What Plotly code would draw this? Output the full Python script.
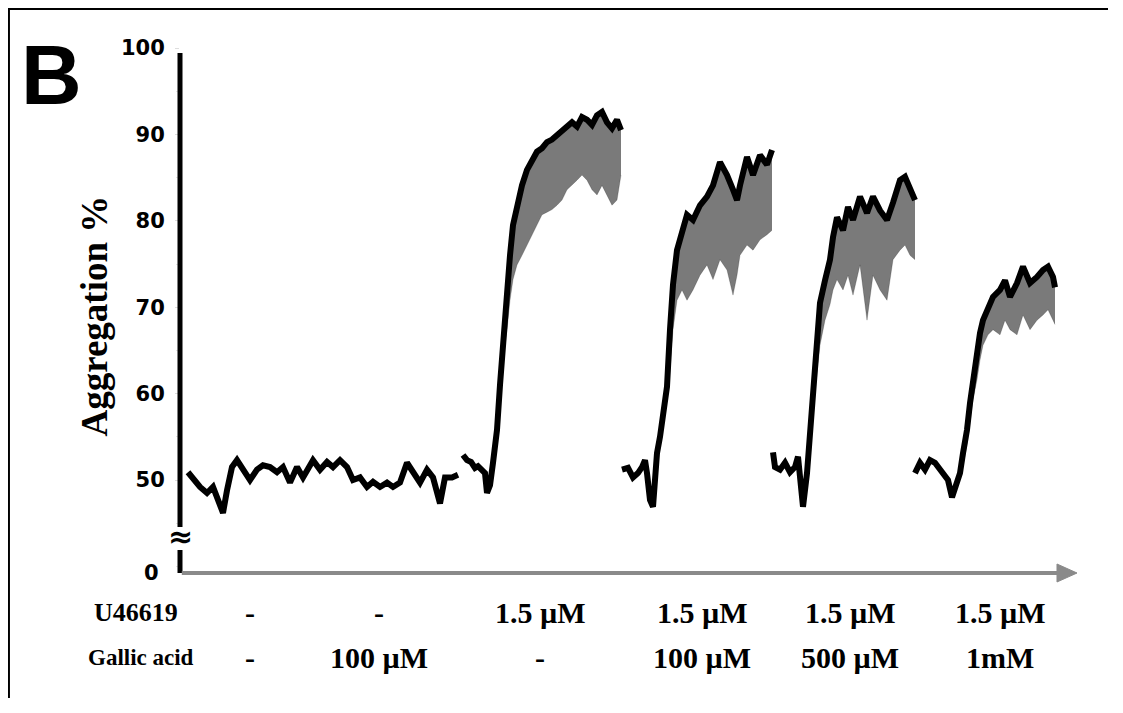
import plotly.graph_objects as go

# ---------------- data (time in arbitrary units, aggregation in %) ----------------
# control traces (no agonist / gallic acid alone)
t_ctrl = [8, 14, 20, 27, 33, 38, 43, 47, 52, 57, 63, 70, 77, 83, 90, 97, 103, 110, 117, 123,
          133, 140, 147, 153, 160, 167, 173, 180, 187, 193, 200, 207, 213, 220, 227, 233, 240,
          247, 253, 260, 265, 272, 278]
agg_ctrl = [50.9, 50.0, 49.2, 48.5, 49.2, 47.7, 46.2, 48.8, 51.5, 52.3, 51.2, 50.0, 51.2, 51.7,
            51.5, 50.9, 51.5, 49.7, 51.5, 50.3, 52.3, 51.2, 52.1, 51.5, 52.3, 51.5, 50.0, 50.3,
            49.2, 49.8, 49.2, 49.7, 49.2, 49.7, 52.0, 50.8, 49.7, 51.2, 50.3, 47.3, 50.3, 50.3, 50.6]

# U46619 1.5 uM
t_u46 = [283, 287, 291, 295, 298, 302, 305, 307, 310, 313, 317, 320, 323, 327, 330, 333, 337, 342,
         347, 352, 357, 362, 367, 372, 377, 382, 387, 392, 397, 402, 407, 412, 417, 422, 427, 432,
         437, 441]
agg_u46_top = [52.9, 52.3, 52.1, 51.4, 51.6, 51.2, 50.8, 48.5, 49.4, 52.0, 55.8, 61.0, 66.2, 71.2,
               76.0, 79.5, 81.8, 84.1, 85.9, 87.0, 88.0, 88.4, 89.1, 89.4, 89.9, 90.3, 90.7, 91.4,
               90.9, 92.0, 91.7, 91.1, 92.2, 92.6, 91.4, 90.7, 91.7, 90.5]
agg_u46_low = [52.9, 52.3, 52.1, 51.4, 51.6, 51.2, 50.8, 48.5, 49.4, 52.0, 54.6, 59.3, 63.9, 67.4,
               70.8, 73.2, 74.9, 76.0, 77.2, 78.4, 79.5, 80.7, 81.0, 81.3, 81.8, 82.4, 83.6, 84.1,
               84.7, 85.3, 84.7, 83.6, 83.0, 84.1, 83.0, 81.8, 82.4, 85.3]

# U46619 1.5 uM + gallic acid 100 uM
t_ga100 = [442, 448, 453, 458, 462, 465, 467, 470, 473, 477, 480, 483, 487, 490, 493, 497, 502,
           507, 513, 520, 527, 533, 540, 547, 553, 557, 560, 567, 573, 580, 587, 592]
agg_ga100_top = [51.2, 51.4, 50.3, 50.8, 51.5, 52.3, 50.8, 47.7, 46.9, 53.1, 55.0, 58.1, 60.8,
                 67.4, 72.6, 76.6, 78.9, 80.7, 80.1, 81.8, 82.8, 84.1, 86.8, 85.3, 83.6, 82.4,
                 84.1, 87.4, 85.3, 87.6, 86.5, 88.2]
agg_ga100_low = [51.2, 51.4, 50.3, 50.8, 51.5, 52.3, 50.8, 47.7, 46.9, 53.1, 54.1, 56.9, 59.3,
                 62.7, 67.4, 70.8, 72.0, 70.8, 72.0, 73.7, 74.9, 73.2, 75.5, 74.3, 71.4, 73.7,
                 76.0, 77.2, 76.6, 77.8, 78.4, 78.9]

# U46619 1.5 uM + gallic acid 500 uM
t_ga500 = [593, 595, 600, 605, 610, 615, 618, 620, 623, 627, 630, 633, 637, 640, 645, 650, 653,
           657, 663, 668, 673, 680, 687, 693, 700, 707, 713, 720, 725, 730, 735]
agg_ga500_top = [53.2, 51.5, 51.2, 52.0, 50.9, 51.5, 52.7, 50.8, 46.9, 50.8, 55.0, 60.1, 66.6,
                 70.5, 73.1, 75.5, 78.1, 80.4, 78.9, 81.6, 80.1, 82.8, 80.9, 82.8, 81.2, 80.1,
                 82.1, 84.7, 85.1, 83.6, 82.4]
agg_ga500_low = [53.2, 51.5, 51.2, 52.0, 50.9, 51.5, 52.7, 50.8, 46.9, 50.8, 54.1, 58.1, 62.7,
                 65.6, 68.5, 70.3, 72.0, 73.2, 72.0, 73.7, 71.4, 74.9, 68.5, 73.7, 72.0, 70.8,
                 75.5, 76.6, 77.2, 76.0, 75.5]

# U46619 1.5 uM + gallic acid 1 mM
t_ga1000 = [735, 740, 745, 750, 755, 760, 765, 768, 772, 775, 780, 783, 787, 790, 793, 797, 800,
            803, 808, 813, 820, 825, 830, 837, 843, 850, 857, 863, 868, 873, 875]
agg_ga1000_top = [50.8, 52.0, 51.2, 52.3, 52.0, 51.2, 50.3, 50.0, 48.0, 49.2, 50.8, 53.1, 55.8,
                  58.9, 61.6, 64.7, 67.0, 68.5, 70.0, 71.2, 72.0, 73.1, 71.2, 72.8, 74.7, 72.8,
                  73.5, 74.3, 74.7, 73.5, 72.3]
agg_ga1000_low = [50.8, 52.0, 51.2, 52.3, 52.0, 51.2, 50.3, 50.0, 48.0, 49.2, 50.8, 51.7, 54.1,
                  56.9, 59.3, 61.6, 63.9, 65.6, 66.8, 67.4, 66.8, 68.5, 67.4, 66.8, 69.1, 67.4,
                  68.5, 69.1, 69.7, 68.5, 68.0]

# condition table under the traces
condition_t = [70, 199, 360, 522, 670, 820]
u46619_labels = ["-", "-", "1.5 µM", "1.5 µM", "1.5 µM", "1.5 µM"]
gallic_labels = ["-", "100 µM", "-", "100 µM", "500 µM", "1mM"]
y_ticks = [50, 60, 70, 80, 90, 100]

# ---------------- figure ----------------
fig = go.Figure()

segments = [
    (t_ctrl, agg_ctrl, agg_ctrl),
    (t_u46, agg_u46_top, agg_u46_low),
    (t_ga100, agg_ga100_top, agg_ga100_low),
    (t_ga500, agg_ga500_top, agg_ga500_low),
    (t_ga1000, agg_ga1000_top, agg_ga1000_low),
]
for t, top, low in segments:
    fig.add_trace(go.Scatter(x=t, y=low, mode="lines",
                             line=dict(color="rgba(0,0,0,0.2)", width=1),
                             hoverinfo="skip", showlegend=False))
    fig.add_trace(go.Scatter(x=t, y=top, mode="lines", fill="tonexty",
                             fillcolor="rgba(0,0,0,0.52)",
                             line=dict(color="black", width=6),
                             showlegend=False))

serif = "Liberation Serif, Times New Roman, serif"
sans = "DejaVu Sans, Verdana, sans-serif"

annotations = []
for tx, u, g in zip(condition_t, u46619_labels, gallic_labels):
    annotations.append(dict(x=tx, y=-0.076, xref="x", yref="paper", text=f"<b>{u}</b>",
                            xanchor="center", yanchor="middle", showarrow=False,
                            font=dict(family=serif, size=30, color="black")))
    annotations.append(dict(x=tx, y=-0.16, xref="x", yref="paper", text=f"<b>{g}</b>",
                            xanchor="center", yanchor="middle", showarrow=False,
                            font=dict(family=serif, size=30, color="black")))
annotations += [
    dict(x=-0.049, y=-0.076, xref="paper", yref="paper", text="<b>U46619</b>", showarrow=False,
         xanchor="center", yanchor="middle", font=dict(family=serif, size=26, color="black")),
    dict(x=-0.0435, y=-0.16, xref="paper", yref="paper", text="<b>Gallic acid</b>",
         xanchor="center", yanchor="middle", showarrow=False,
         font=dict(family=serif, size=23, color="black")),
    dict(x=-0.095, y=0.49, xref="paper", yref="paper", text="<b>Aggregation %</b>",
         xanchor="center", yanchor="middle", textangle=-90, showarrow=False,
         font=dict(family=serif, size=37, color="black")),
    dict(x=-0.1427, y=0.9486, xref="paper", yref="paper", text="<b>B</b>", showarrow=False,
         xanchor="center", yanchor="middle",
         font=dict(family="Liberation Sans, Arial, sans-serif", size=84, color="black")),
    dict(x=-0.021, y=0.0, xref="paper", yref="paper", text="<b>0</b>", showarrow=False,
         xanchor="right", yanchor="middle", font=dict(family=sans, size=21, color="black")),
    dict(x=0.0, y=0.0686, xref="paper", yref="paper", text="<b>≈</b>", showarrow=False,
         xanchor="center", yanchor="middle", font=dict(family=sans, size=30, color="black")),
]

shapes = [
    # frame (top and left edges of the panel)
    dict(type="line", xref="paper", yref="paper", x0=-0.1918, x1=1.07, y0=1.0762, y1=1.0762,
         line=dict(color="black", width=4)),
    dict(type="line", xref="paper", yref="paper", x0=-0.1918, x1=-0.1918, y0=1.0762, y1=-0.3,
         line=dict(color="black", width=4)),
    # broken y axis
    dict(type="line", xref="paper", yref="paper", x0=0, x1=0, y0=0.9905, y1=0.0876,
         line=dict(color="black", width=5)),
    dict(type="line", xref="paper", yref="paper", x0=0, x1=0, y0=0.0438, y1=0.0,
         line=dict(color="black", width=5)),
    # x axis arrow
    dict(type="line", xref="paper", yref="paper", x0=0.002, x1=0.98, y0=0, y1=0,
         line=dict(color="#8a8a8a", width=4)),
    dict(type="path", xref="paper", yref="paper",
         path="M 0.9777 0.01714 L 1.0 0 L 0.9777 -0.01714 Z",
         fillcolor="#8a8a8a", line=dict(color="#8a8a8a", width=1)),
]

# the page adds an 8 px body margin on every side: size the figure so the page
# fits the window, and shift the plot area up/left by 8 px
fig.update_layout(
    width=1100, height=690,
    margin=dict(l=172, r=31, t=40, b=125),
    paper_bgcolor="white", plot_bgcolor="white",
    showlegend=False,
    annotations=annotations,
    shapes=shapes,
    xaxis=dict(range=[0, 897], showline=False, showgrid=False, zeroline=False,
               showticklabels=False, ticks=""),
    yaxis=dict(range=[39.24, 100], showline=False, showgrid=False, zeroline=False,
               tickvals=y_ticks, ticktext=[f"<b>{v}</b>" for v in y_ticks],
               tickfont=dict(family=sans, size=21, color="black"),
               ticks="outside", ticklen=4, tickcolor="#dddddd", ticklabelstandoff=6,
               minor=dict(dtick=5, ticks="outside", ticklen=3, tickcolor="#e4e4e4")),
)

fig.write_html("out.html")
